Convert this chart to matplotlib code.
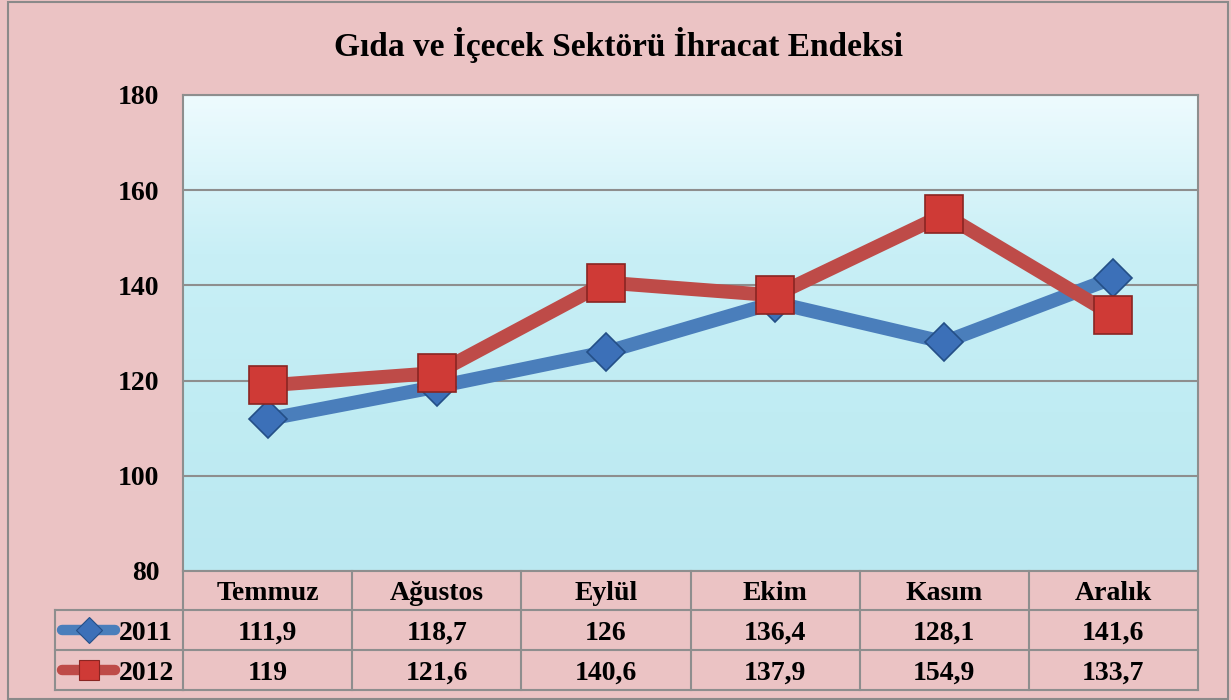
import numpy as np
import matplotlib
matplotlib.use("Agg")
import matplotlib.pyplot as plt
from matplotlib.lines import Line2D
from matplotlib.transforms import blended_transform_factory

# data
months = ["Temmuz", "Ağustos", "Eylül", "Ekim", "Kasım", "Aralık"]
years = ["2011", "2012"]
values_2011 = [111.9, 118.7, 126, 136.4, 128.1, 141.6]
values_2012 = [119, 121.6, 140.6, 137.9, 154.9, 133.7]
yticks = [80, 100, 120, 140, 160, 180]

W, H = 1231, 700
FONT = "Liberation Serif"
FS = 20
pink = "#EBC3C4"
grid_c = "#8E8E8E"
blue_line, blue_mark = "#4A7EBB", "#3C70B8"
red_line, red_mark = "#BE4B48", "#CF3A36"

fig = plt.figure(figsize=(W / 100, H / 100), dpi=100, facecolor=pink)

def fx(px):
    return px / W

def fy(py):
    return 1 - py / H

# outer frame
fig.add_artist(plt.Rectangle((fx(8), fy(699)), fx(1220), fy(2) - fy(699),
                             transform=fig.transFigure, fill=False,
                             edgecolor="#8A8A8A", lw=1.5))

ax = fig.add_axes([fx(183), fy(571), fx(1198 - 183), fy(95) - fy(571)])

# plot area background: light cyan gradient
grad = np.linspace(0, 1, 256).reshape(-1, 1)
cmap = matplotlib.colors.LinearSegmentedColormap.from_list(
    "aqua", ["#EEFBFE", "#C8EFF6", "#C0ECF3", "#BBE8F1"])
ax.imshow(grad, extent=[0, 1, 0, 1], transform=ax.transAxes, cmap=cmap,
          aspect="auto", zorder=0)

x = np.arange(len(months))
ax.plot(x, values_2011, color=blue_line, lw=10, solid_capstyle="round",
        marker="D", ms=19, mfc=blue_mark, mec="#244F87", mew=1.2, zorder=3)
ax.plot(x, values_2012, color=red_line, lw=10, solid_capstyle="round",
        marker="s", ms=27, mfc=red_mark, mec="#8A2522", mew=1.2, zorder=4)

ax.set_xlim(-0.5, len(months) - 0.5)
ax.set_ylim(80, 180)
ax.set_yticks(yticks)
ax.set_yticklabels([str(v) for v in yticks], fontfamily=FONT,
                   fontweight="bold", fontsize=FS)
ax.set_xticks([])
ax.tick_params(axis="y", length=0, pad=17)
ax.yaxis.grid(True, color=grid_c, lw=1.5)
for s in ax.spines.values():
    s.set_color(grid_c)
    s.set_linewidth(1.5)
for gl in ax.yaxis.get_gridlines():
    gl.set_zorder(1)

fig.text(fx(618), fy(45), "Gıda ve İçecek Sektörü İhracat Endeksi",
         ha="center", va="center", fontfamily=FONT, fontweight="bold",
         fontsize=24)

# data table under the axes
tr = blended_transform_factory(ax.transData, fig.transFigure)
row_top, row1, row2, row_bot = fy(571), fy(610), fy(650), fy(690)
left_edge = fx(55)
dy = 3 / H  # serif text sits a bit high with va=center

def hline(x0, x1, y, t):
    fig.add_artist(Line2D([x0, x1], [y, y], transform=t, color=grid_c, lw=1.5))

def vline(xv, y0, y1, t):
    fig.add_artist(Line2D([xv, xv], [y0, y1], transform=t, color=grid_c, lw=1.5))

ax_l, ax_r = -0.5, len(months) - 0.5
for yy in (row1, row2, row_bot):
    hline(ax_l, ax_r, yy, tr)
    hline(left_edge, fx(183), yy, fig.transFigure)
vline(left_edge, row1, row_bot, fig.transFigure)
for b in np.arange(len(months) + 1) - 0.5:
    vline(b, row_top, row_bot, tr)

txt_kw = dict(ha="center", va="center", fontfamily=FONT, fontweight="bold",
              fontsize=FS)
for i, m in enumerate(months):
    fig.text(i, (row_top + row1) / 2 - dy, m, transform=tr, **txt_kw)
    fig.text(i, (row1 + row2) / 2 - dy, f"{values_2011[i]:g}".replace(".", ","),
             transform=tr, **txt_kw)
    fig.text(i, (row2 + row_bot) / 2 - dy, f"{values_2012[i]:g}".replace(".", ","),
             transform=tr, **txt_kw)

# legend keys in the table
keys = [(years[0], blue_line, "D", 13, blue_mark, "#244F87", (row1 + row2) / 2),
        (years[1], red_line, "s", 15, red_mark, "#8A2522", (row2 + row_bot) / 2)]
for label, lc, mk, ms, mfc, mec, yy in keys:
    fig.add_artist(Line2D([fx(62), fx(115)], [yy, yy], transform=fig.transFigure,
                          color=lc, lw=7.5, solid_capstyle="round"))
    fig.add_artist(Line2D([fx(89)], [yy], transform=fig.transFigure,
                          marker=mk, ms=ms, mfc=mfc, mec=mec, mew=0.8, lw=0))
    fig.text(fx(119), yy - dy, label, ha="left", va="center", fontfamily=FONT,
             fontweight="bold", fontsize=FS)

fig.savefig("out.png", dpi=100, facecolor=pink)
